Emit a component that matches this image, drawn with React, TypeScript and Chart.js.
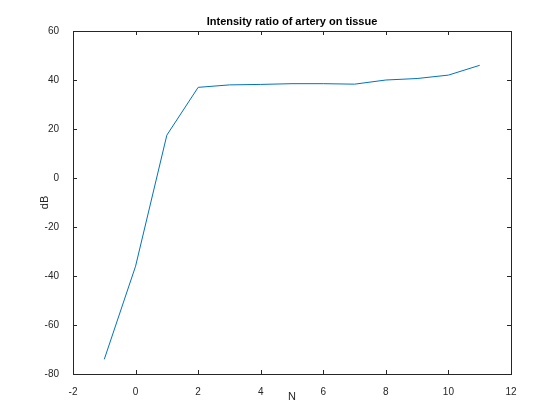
import { useEffect, useRef } from "react";
import { Chart, registerables } from "chart.js";

Chart.register(...registerables);

const N = [-1, 0, 1, 2, 3, 4, 5, 6, 7, 8, 9, 10, 11];
const DB = [-74, -36, 17.5, 37, 38, 38.2, 38.5, 38.5, 38.3, 40, 40.6, 42, 46];

const FONT = "'Liberation Sans', Arial, sans-serif";

// box, inward ticks, title and axis labels drawn MATLAB-style
const matlabFrame = {
  id: "matlabFrame",
  afterDraw(chart: Chart) {
    const { ctx, chartArea: a, scales } = chart;
    ctx.save();
    ctx.strokeStyle = "#262626";
    ctx.lineWidth = 1;
    ctx.strokeRect(a.left + 0.5, a.top + 0.5, a.right - a.left, a.bottom - a.top);
    const x = scales.x;
    const y = scales.y;
    ctx.beginPath();
    x.ticks.forEach((t) => {
      const px = Math.round(x.getPixelForValue(t.value)) + 0.5;
      ctx.moveTo(px, a.bottom); ctx.lineTo(px, a.bottom - 4);
      ctx.moveTo(px, a.top); ctx.lineTo(px, a.top + 4);
    });
    y.ticks.forEach((t) => {
      const py = Math.round(y.getPixelForValue(t.value)) + 0.5;
      ctx.moveTo(a.left, py); ctx.lineTo(a.left + 4, py);
      ctx.moveTo(a.right, py); ctx.lineTo(a.right - 4, py);
    });
    ctx.stroke();
    ctx.fillStyle = "#000";
    ctx.textAlign = "center";
    ctx.font = `bold 11px ${FONT}`;
    ctx.fillText("Intensity ratio of artery on tissue", (a.left + a.right) / 2, 25);
    ctx.font = `11px ${FONT}`;
    ctx.fillStyle = "#262626";
    ctx.fillText("N", (a.left + a.right) / 2, 400);
    ctx.translate(48, (a.top + a.bottom) / 2);
    ctx.rotate(-Math.PI / 2);
    ctx.fillText("dB", 0, 0);
    ctx.restore();
  },
};

export default function App() {
  const ref = useRef<HTMLCanvasElement>(null);
  useEffect(() => {
    document.body.style.margin = "0";
    const chart = new Chart(ref.current!, {
      type: "line",
      data: {
        datasets: [
          {
            data: N.map((n, i) => ({ x: n, y: DB[i] })),
            borderColor: "#0072BD",
            borderWidth: 1,
            pointRadius: 0,
            tension: 0,
          },
        ],
      },
      options: {
        responsive: false,
        animation: false,
        layout: { padding: { top: 31, right: 49, left: 0, bottom: 0 } },
        plugins: { legend: { display: false }, tooltip: { enabled: false } },
        scales: {
          x: {
            type: "linear",
            min: -2,
            max: 12,
            grid: { display: false },
            border: { display: false },
            afterFit: (s: any) => { s.height = 46; },
            ticks: { stepSize: 2, color: "#262626", font: { family: FONT, size: 10 }, padding: 4 },
          },
          y: {
            min: -80,
            max: 60,
            grid: { display: false },
            border: { display: false },
            afterFit: (s: any) => { s.width = 73; },
            ticks: { stepSize: 20, color: "#262626", font: { family: FONT, size: 10 }, padding: 6 },
          },
        },
      },
      plugins: [matlabFrame],
    });
    return () => chart.destroy();
  }, []);
  return (
    <div style={{ width: 560, height: 420, background: "#fff" }}>
      <canvas ref={ref} width={560} height={420} />
    </div>
  );
}
